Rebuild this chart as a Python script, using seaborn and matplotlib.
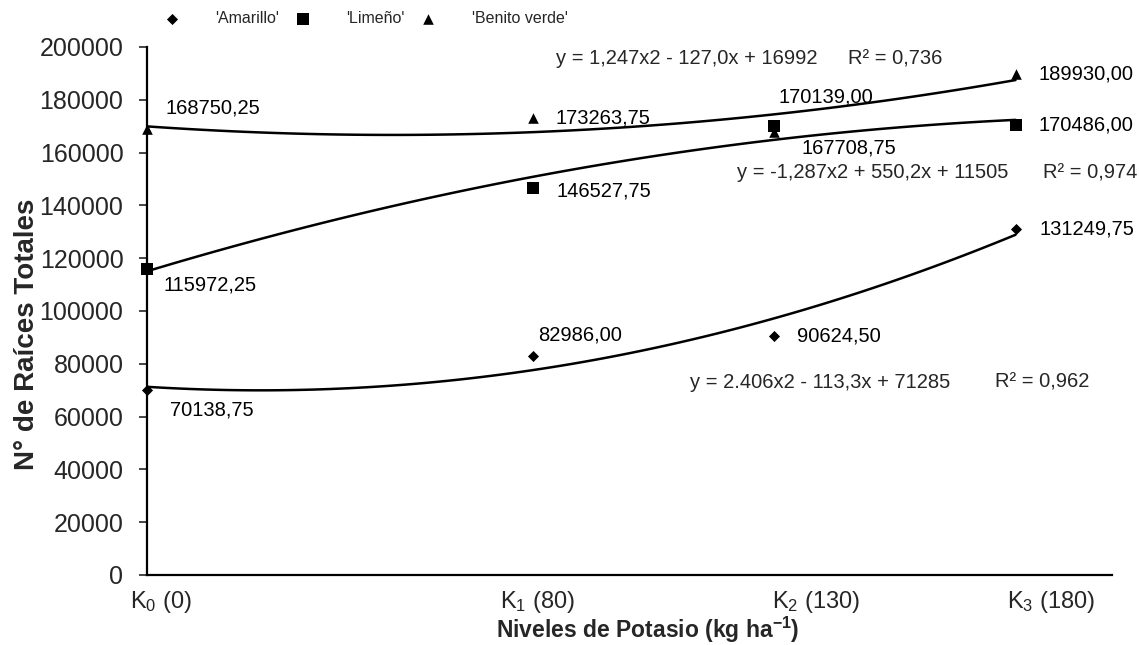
import numpy as np
import pandas as pd
import matplotlib
matplotlib.use("Agg")
import matplotlib.pyplot as plt
from matplotlib.transforms import ScaledTranslation
import seaborn as sns

# ---------------- data ----------------
dose = [0, 80, 130, 180]
tick_labels = ["K$_0$ (0)", "K$_1$ (80)", "K$_2$ (130)", "K$_3$ (180)"]
amarillo = [70138.75, 82986.00, 90624.50, 131249.75]
limeno = [115972.25, 146527.75, 170139.00, 170486.00]
benito = [168750.25, 173263.75, 167708.75, 189930.00]
amarillo_lbl = ["70138,75", "82986,00", "90624,50", "131249,75"]
limeno_lbl = ["115972,25", "146527,75", "170139,00", "170486,00"]
benito_lbl = ["168750,25", "173263,75", "167708,75", "189930,00"]
series_names = ["'Amarillo'", "'Limeño'", "'Benito verde'"]
eq_text = ["y = 2.406x2 - 113,3x + 71285", "y = -1,287x2 + 550,2x + 11505",
           "y = 1,247x2 - 127,0x + 16992"]
r2_text = ["R² = 0,962", "R² = 0,974", "R² = 0,736"]

# ---------------- style ----------------
sns.set_style("white")
plt.rcParams["font.family"] = ["Liberation Sans", "DejaVu Sans"]
plt.rcParams["mathtext.fontset"] = "custom"
plt.rcParams["mathtext.rm"] = "Liberation Sans"
plt.rcParams["mathtext.it"] = "Liberation Sans"
plt.rcParams["mathtext.bf"] = "Liberation Sans:bold"
plt.rcParams["mathtext.default"] = "regular"

fig = plt.figure(figsize=(11.39, 6.45), dpi=100)
ax = fig.add_axes([147 / 1139, 1 - 575 / 645, (1112 - 147) / 1139, (575 - 47) / 645])

df = pd.DataFrame({"dose": dose * 3,
                   "val": amarillo + limeno + benito,
                   "var": sum([[n] * 4 for n in series_names], [])})

markers = ["D", "s", "^"]
sizes = [32, 78, 58]
all_vals = [amarillo, limeno, benito]
for name, mk, sz, vals in zip(series_names, markers, sizes, all_vals):
    sub = df[df["var"] == name]
    sns.regplot(data=sub, x="dose", y="val", order=2, ci=None, scatter=False,
                ax=ax, color="black", line_kws=dict(lw=1.8))
    sns.scatterplot(data=sub, x="dose", y="val", marker=mk, s=sz, color="black",
                    edgecolor="black", linewidth=0, ax=ax, label=name,
                    clip_on=False, zorder=5)

# data labels (offsets in points relative to the point)
lbl_off = {
    0: [(16.5, -14.5), (3.6, 15), (16.5, 0), (17, 0)],
    1: [(12, -12), (17, -2), (3, 21), (16.5, 0)],
    2: [(13, 15.5), (16.5, 0), (19.5, -11.5), (16.5, 0)],
}
all_lbls = [amarillo_lbl, limeno_lbl, benito_lbl]
for i in range(3):
    for j in range(4):
        ax.annotate(all_lbls[i][j], (dose[j], all_vals[i][j]),
                    xytext=lbl_off[i][j], textcoords="offset points",
                    ha="left", va="center", fontsize=14.5, color="black")

# trend equations (axes pixel positions converted to data)
def px2data(px, py):
    return (px - 147) / 965 * 200, (575 - py) / 528 * 200000

eq_pos = [(690, 382), (737, 173), (556, 59)]
r2_pos = [(995, 382), (1043, 173), (848, 59)]
for t, p in zip(eq_text, eq_pos):
    ax.text(*px2data(*p), t, ha="left", va="center", fontsize=14.5)
for t, p in zip(r2_text, r2_pos):
    ax.text(*px2data(*p), t, ha="left", va="center", fontsize=14.5)

# axes
ax.set_xlim(0, 200)
ax.set_ylim(0, 200000)
ax.set_yticks(np.arange(0, 200001, 20000))
ax.set_yticklabels([str(v) for v in range(0, 200001, 20000)])
ax.set_xticks(dose)
ax.set_xticklabels(tick_labels)
ax.tick_params(axis="y", length=6, width=1.2, pad=11, labelsize=18, direction="out", left=True)
ax.tick_params(axis="x", length=0, pad=10, labelsize=17)
x_off = [14, 5, 42, 36]
for lab, dx in zip(ax.get_xticklabels(), x_off):
    lab.set_transform(lab.get_transform() + ScaledTranslation(dx / 100, 0, fig.dpi_scale_trans))

for s in ["top", "right"]:
    ax.spines[s].set_visible(False)
for s in ["left", "bottom"]:
    ax.spines[s].set_color("black")
    ax.spines[s].set_linewidth(1.6)

ax.set_ylabel("N° de Raíces Totales", fontsize=20, fontweight="bold")
ax.yaxis.set_label_coords(-0.111, 0.456)
ax.set_xlabel("Niveles de Potasio (kg ha$^{-1}$)", fontsize=16.5, fontweight="bold")
ax.xaxis.set_label_coords(0.519, -0.075)

leg = ax.legend(loc="upper left", bbox_to_anchor=(164 / 1139, 1 - 11 / 645),
                bbox_transform=fig.transFigure, ncol=3, frameon=False,
                fontsize=11.5, handlelength=1.0, handletextpad=2.2,
                columnspacing=1.0, borderpad=0, borderaxespad=0)

fig.savefig("out.png", dpi=100)
